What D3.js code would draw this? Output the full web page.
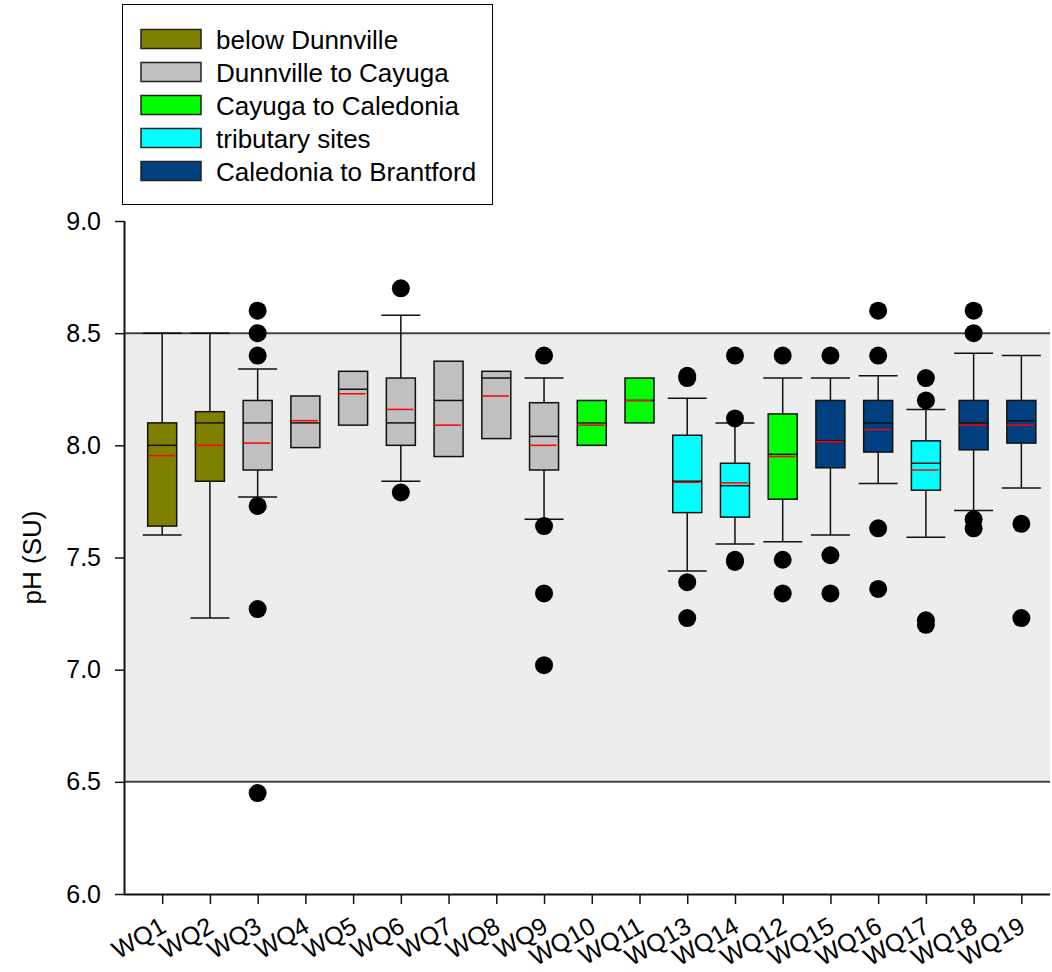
<!DOCTYPE html>
<html>
<head>
<meta charset="utf-8">
<script src="https://cdn.jsdelivr.net/npm/d3@7"></script>
<style>
  html, body { margin: 0; padding: 0; background: #fff; }
  svg { display: block; font-family: "Liberation Sans", Arial, sans-serif; }
</style>
</head>
<body>
<svg id="chart" width="1052" height="972"></svg>
<script>
// Sampling sites, in plotting order
const sites = ["WQ1","WQ2","WQ3","WQ4","WQ5","WQ6","WQ7","WQ8","WQ9","WQ10",
               "WQ11","WQ13","WQ14","WQ12","WQ15","WQ16","WQ17","WQ18","WQ19"];

// River reach each site belongs to (index into groupNames / groupColors)
const siteGroup = [0,0,1,1,1,1,1,1,1,2,2,3,3,2,4,4,3,4,4];

const groupNames  = ["below Dunnville","Dunnville to Cayuga","Cayuga to Caledonia",
                     "tributary sites","Caledonia to Brantford"];
const groupColors = ["#808000","#c0c0c0","#00ff00","#00ffff","#004080"];

// Box statistics (pH, SU)
const q3Values     = [8.10, 8.15, 8.20, 8.22, 8.33, 8.30, 8.375, 8.33, 8.19, 8.20,
                      8.30, 8.045, 7.92, 8.14, 8.20, 8.20, 8.02, 8.20, 8.20];
const medianValues = [8.00, 8.10, 8.10, 8.10, 8.25, 8.10, 8.20, 8.30, 8.04, 8.10,
                      8.20, 7.84, 7.82, 7.96, 8.02, 8.10, 7.92, 8.10, 8.11];
const meanValues   = [7.954, 8.00, 8.01, 8.11, 8.23, 8.16, 8.09, 8.22, 8.00, 8.09,
                      8.20, 7.835, 7.833, 7.95, 8.016, 8.07, 7.89, 8.09, 8.09];
const q1Values     = [7.64, 7.84, 7.89, 7.99, 8.09, 8.00, 7.95, 8.03, 7.89, 8.00,
                      8.10, 7.70, 7.68, 7.76, 7.90, 7.97, 7.80, 7.98, 8.01];
const whiskerHigh  = [8.50, 8.50, 8.34, null, null, 8.58, null, null, 8.30, null,
                      null, 8.21, 8.10, 8.30, 8.30, 8.31, 8.16, 8.41, 8.40];
const whiskerLow   = [7.60, 7.23, 7.77, null, null, 7.84, null, null, 7.67, null,
                      null, 7.44, 7.56, 7.57, 7.60, 7.83, 7.59, 7.71, 7.81];
const outlierValues = [
  [], [], [8.60, 8.50, 8.40, 7.73, 7.27, 6.45], [], [], [8.70, 7.79], [], [],
  [8.40, 7.64, 7.34, 7.02], [], [], [8.30, 8.31, 7.39, 7.23], [8.40, 8.12, 7.49, 7.48],
  [8.40, 7.49, 7.34], [8.40, 7.51, 7.34], [8.60, 8.40, 7.63, 7.36],
  [8.30, 8.20, 7.22, 7.20], [8.60, 8.50, 7.67, 7.63], [7.65, 7.23]
];

// Guideline range and axis ticks
const guideRange = [6.5, 8.5];
const yTicks = [6.0, 6.5, 7.0, 7.5, 8.0, 8.5, 9.0];
const yLabel = "pH (SU)";

const svg = d3.select("#chart");
const plotLeft = 124, plotRight = 1050, plotTop = 221, plotBottom = 894;

const x = d3.scaleLinear().domain([0.2, sites.length + 0.6]).range([plotLeft, plotRight]);
const y = d3.scaleLinear().domain([6, 9]).range([plotBottom, plotTop]);

const boxW = 29, capW = 39;
const ink = "#111";

// Guideline band
svg.append("rect")
  .attr("x", plotLeft).attr("y", y(guideRange[1]))
  .attr("width", plotRight - plotLeft).attr("height", y(guideRange[0]) - y(guideRange[1]))
  .attr("fill", "#ededed");
svg.selectAll("line.guide").data(guideRange).join("line")
  .attr("class", "guide")
  .attr("x1", plotLeft).attr("x2", plotRight)
  .attr("y1", d => y(d)).attr("y2", d => y(d))
  .attr("stroke", "#444").attr("stroke-width", 2);

// Boxes
const data = sites.map((s, i) => ({
  site: s, pos: i + 1, group: siteGroup[i],
  q1: q1Values[i], q3: q3Values[i], med: medianValues[i], mean: meanValues[i],
  lo: whiskerLow[i], hi: whiskerHigh[i], out: outlierValues[i]
}));

const g = svg.append("g").selectAll("g").data(data).join("g");

// Whiskers
g.filter(d => d.hi != null).each(function(d) {
  const s = d3.select(this), cx = x(d.pos);
  s.append("line").attr("x1", cx).attr("x2", cx).attr("y1", y(d.q3)).attr("y2", y(d.hi))
    .attr("stroke", ink).attr("stroke-width", 1.5);
  s.append("line").attr("x1", cx - capW / 2).attr("x2", cx + capW / 2)
    .attr("y1", y(d.hi)).attr("y2", y(d.hi)).attr("stroke", ink).attr("stroke-width", 1.5);
  s.append("line").attr("x1", cx).attr("x2", cx).attr("y1", y(d.q1)).attr("y2", y(d.lo))
    .attr("stroke", ink).attr("stroke-width", 1.5);
  s.append("line").attr("x1", cx - capW / 2).attr("x2", cx + capW / 2)
    .attr("y1", y(d.lo)).attr("y2", y(d.lo)).attr("stroke", ink).attr("stroke-width", 1.5);
});

g.append("rect")
  .attr("x", d => x(d.pos) - boxW / 2).attr("width", boxW)
  .attr("y", d => y(d.q3)).attr("height", d => y(d.q1) - y(d.q3))
  .attr("fill", d => groupColors[d.group])
  .attr("stroke", ink).attr("stroke-width", 1.5);

g.append("line")
  .attr("x1", d => x(d.pos) - boxW / 2).attr("x2", d => x(d.pos) + boxW / 2)
  .attr("y1", d => y(d.med)).attr("y2", d => y(d.med))
  .attr("stroke", ink).attr("stroke-width", 1.5);

g.append("line")
  .attr("x1", d => x(d.pos) - boxW / 2).attr("x2", d => x(d.pos) + boxW / 2 - 2)
  .attr("y1", d => y(d.mean)).attr("y2", d => y(d.mean))
  .attr("stroke", "#ff0000").attr("stroke-width", 1.5);

g.selectAll("circle").data(d => d.out.map(v => ({ pos: d.pos, v }))).join("circle")
  .attr("cx", d => x(d.pos)).attr("cy", d => y(d.v)).attr("r", 9)
  .attr("fill", "#000");

// Y axis
const yAxis = svg.append("g").attr("transform", `translate(${plotLeft},0)`)
  .call(d3.axisLeft(y).tickValues(yTicks).tickFormat(d3.format(".1f")).tickSize(9).tickPadding(14));
yAxis.select(".domain").attr("stroke", ink).attr("stroke-width", 2)
  .attr("d", `M0.5,${plotTop}V${plotBottom}`);
yAxis.selectAll(".tick line").attr("stroke", ink).attr("stroke-width", 1.5);
yAxis.selectAll(".tick text").attr("font-size", 25).attr("fill", "#000")
  .attr("font-family", "'Liberation Sans', Arial, sans-serif");

// X axis
const xAxis = svg.append("g").attr("transform", `translate(0,${plotBottom})`)
  .call(d3.axisBottom(x).tickValues(d3.range(1, sites.length + 1)).tickFormat(d => sites[d - 1]).tickSize(10));
xAxis.select(".domain").attr("stroke", ink).attr("stroke-width", 2)
  .attr("d", `M${plotLeft},0.5H${plotRight}`);
xAxis.selectAll(".tick line").attr("stroke", ink).attr("stroke-width", 1.5);
xAxis.selectAll(".tick text")
  .attr("font-size", 25).attr("fill", "#000")
  .attr("font-family", "'Liberation Sans', Arial, sans-serif")
  .attr("text-anchor", "end").attr("dy", null).attr("y", null)
  .attr("transform", "translate(5,37) rotate(-30)");

// Y axis title
svg.append("text")
  .attr("transform", `translate(41,${(plotTop + plotBottom) / 2}) rotate(-90)`)
  .attr("text-anchor", "middle").attr("font-size", 26).attr("fill", "#000")
  .text(yLabel);

// Legend
const legend = svg.append("g");
legend.append("rect").attr("x", 122.5).attr("y", 4.5).attr("width", 370).attr("height", 200)
  .attr("fill", "#fff").attr("stroke", "#000").attr("stroke-width", 1);
const li = legend.selectAll("g.item").data(groupNames).join("g").attr("class", "item")
  .attr("transform", (d, i) => `translate(141,${29.5 + i * 33})`);
li.append("rect").attr("width", 60).attr("height", 19)
  .attr("fill", (d, i) => groupColors[i]).attr("stroke", "#222").attr("stroke-width", 1.5);
li.append("text").attr("x", 75).attr("y", 19).attr("font-size", 26).attr("fill", "#000")
  .text(d => d);
</script>
</body>
</html>
